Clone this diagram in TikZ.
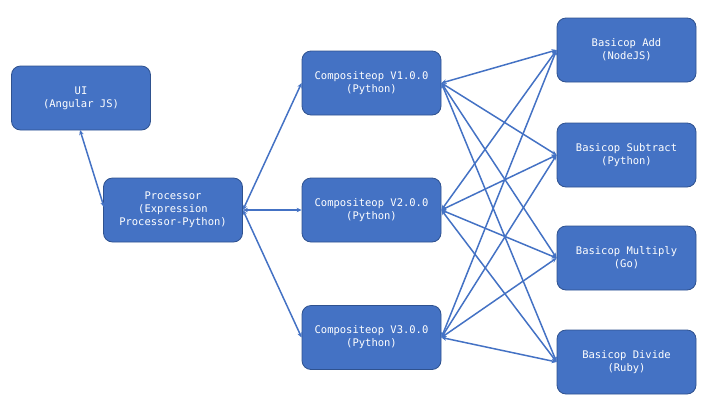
\documentclass[tikz,border=0pt]{standalone}
\usepackage{fontspec}
\setmonofont{DejaVu Sans Mono}
\usetikzlibrary{arrows.meta}
\definecolor{boxfill}{HTML}{4472C4}
\definecolor{boxline}{HTML}{2F528F}
\definecolor{conn}{HTML}{4472C4}
\begin{document}
\begin{tikzpicture}[x=1pt,y=-1pt,
  svc/.style={draw=boxline,line width=0.8pt,fill=boxfill,rounded corners=9pt,
    minimum width=139pt,minimum height=64pt,inner sep=2pt,align=center,
    text=white,font=\ttfamily\fontsize{10.5}{13}\selectfont},
  link/.style={draw=conn,line width=1.5pt,{Stealth[length=5pt,width=4.5pt]}-{Stealth[length=5pt,width=4.5pt]}}]
\useasboundingbox (0,0) rectangle (720,405);
\node[svc] (ui) at (81,98) {UI\\(Angular JS)};
\node[svc] (proc) at (173,210) {Processor\\(Expression\\Processor-Python)};
\node[svc] (c1) at (371.5,83) {Compositeop V1.0.0\\(Python)};
\node[svc] (c2) at (371.5,210) {Compositeop V2.0.0\\(Python)};
\node[svc] (c3) at (371.5,337.5) {Compositeop V3.0.0\\(Python)};
\node[svc] (add) at (626.5,50) {Basicop Add\\(NodeJS)};
\node[svc] (sub) at (626.5,155) {Basicop Subtract\\(Python)};
\node[svc] (mul) at (626.5,258) {Basicop Multiply\\(Go)};
\node[svc] (div) at (626.5,362) {Basicop Divide\\(Ruby)};
\coordinate (uib) at (80,130);
\coordinate (procw) at (104,207);
\draw[link] (uib) -- (procw);
\foreach \c in {c1,c2,c3}{
  \draw[link] (proc.east) -- (\c.west);
  \foreach \b in {add,sub,mul,div}{
    \draw[link] (\c.east) -- (\b.west);
  }
}
\end{tikzpicture}
\end{document}
